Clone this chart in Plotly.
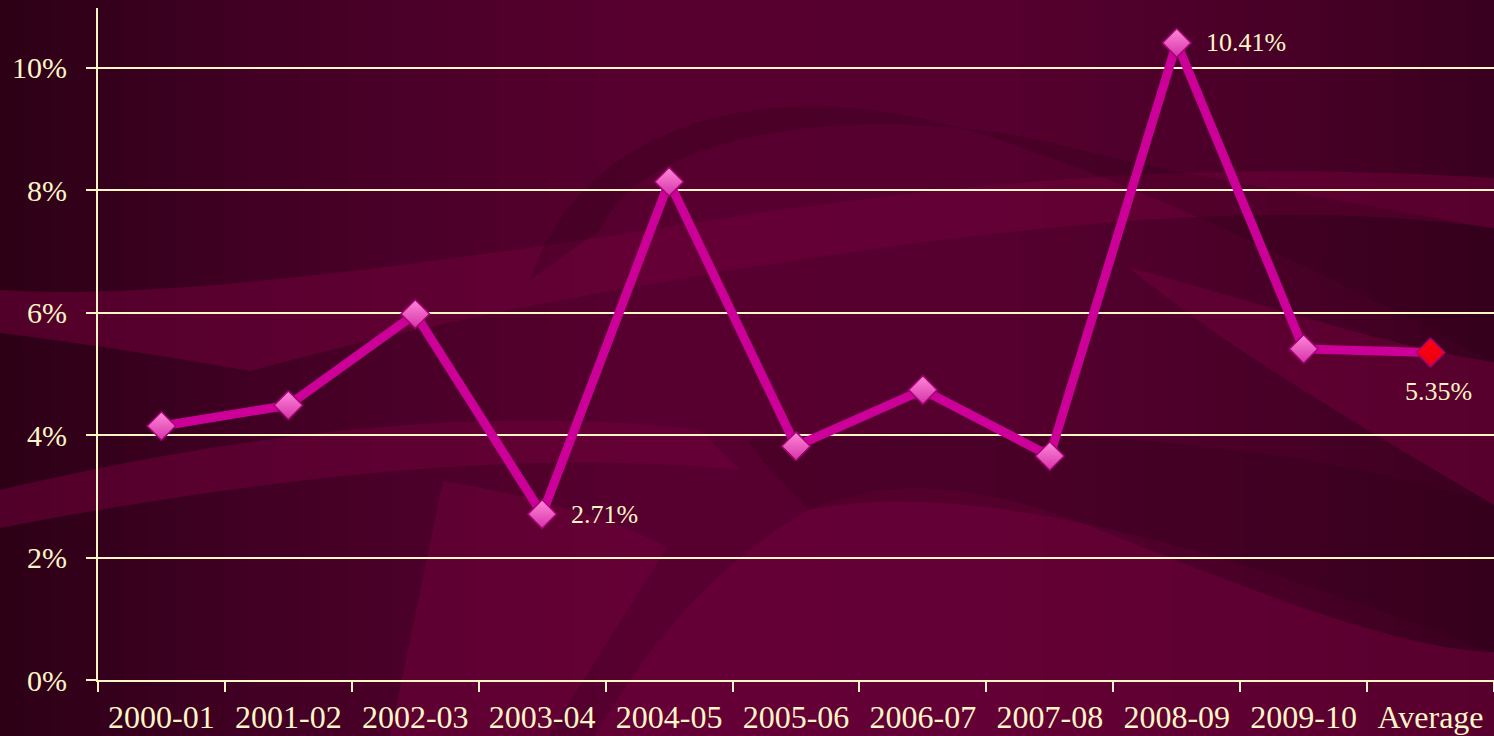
import plotly.graph_objects as go

categories = ["2000-01", "2001-02", "2002-03", "2003-04", "2004-05", "2005-06",
              "2006-07", "2007-08", "2008-09", "2009-10", "Average"]
values = [4.15, 4.49, 5.98, 2.71, 8.14, 3.82, 4.74, 3.66, 10.41, 5.41, 5.35]
labelled = {"2003-04": "2.71%", "2008-09": "10.41%", "Average": "5.35%"}
y_ticks = [0, 2, 4, 6, 8, 10]
y_tick_text = ["0%", "2%", "4%", "6%", "8%", "10%"]

W, H = 1494, 736
L, R, T, B = 98, 0, 8, 56
PW, PH = W - L - R, H - T - B
Y_MAX = 10.98


def px(x, y):
    return (x - L) / PW, (H - B - y) / PH


def path(points):
    out = []
    for cmd, *pts in points:
        coords = []
        for i in range(0, len(pts), 2):
            a, b = px(pts[i], pts[i + 1])
            coords.append(f"{a:.4f},{b:.4f}")
        out.append(cmd + " " + " ".join(coords))
    return " ".join(out) + " Z"


shapes = []
# background horizontal gradient
stops = [(0, (44, 0, 22)), (250, (66, 0, 36)), (650, (88, 0, 48)), (1000, (86, 0, 47)),
         (1300, (72, 0, 39)), (1494, (58, 0, 31))]
N = 60
for i in range(N):
    x0 = i * W / N
    x1 = x0 + W / N + 1
    xc = x0 + W / N / 2
    for j in range(len(stops) - 1):
        if stops[j][0] <= xc <= stops[j + 1][0]:
            t = (xc - stops[j][0]) / (stops[j + 1][0] - stops[j][0])
            c = tuple(int(stops[j][1][k] + t * (stops[j + 1][1][k] - stops[j][1][k])) for k in range(3))
            break
    a0, b0 = px(x0, H)
    a1, b1 = px(x1, 0)
    shapes.append(dict(type="rect", xref="paper", yref="paper", x0=a0, x1=a1, y0=b0, y1=b1,
                       fillcolor=f"rgb{c}", line=dict(width=0), layer="below"))

light = "rgba(112,0,58,0.55)"
dark = "rgba(40,0,20,0.25)"
swooshes = [
    ([("M", 0, 290), ("C", 150, 300, 400, 270, 750, 214), ("C", 1000, 180, 1200, 160, 1494, 178),
      ("L", 1494, 228), ("C", 1250, 195, 1000, 230, 750, 267), ("C", 550, 300, 400, 330, 250, 371),
      ("C", 160, 355, 60, 340, 0, 333)], light),
    ([("M", 0, 490), ("C", 250, 430, 500, 405, 700, 430), ("L", 740, 470),
      ("C", 550, 450, 300, 470, 0, 528)], light),
    ([("M", 443, 481), ("C", 530, 495, 620, 520, 667, 548), ("L", 548, 736), ("L", 390, 736)], light),
    ([("M", 595, 736), ("C", 650, 640, 720, 560, 809, 510), ("C", 900, 470, 1000, 490, 1100, 530),
      ("C", 1250, 590, 1400, 650, 1494, 652), ("L", 1494, 736)], light),
    ([("M", 530, 280), ("C", 580, 130, 760, 60, 1000, 140), ("C", 1150, 190, 1300, 260, 1494, 362),
      ("L", 1494, 229), ("C", 1350, 200, 1200, 180, 1080, 150), ("C", 900, 100, 650, 120, 600, 230)], dark),
    ([("M", 1128, 267), ("C", 1250, 300, 1400, 350, 1494, 362), ("L", 1494, 505),
      ("C", 1350, 420, 1230, 350, 1128, 267)], light),
    ([("M", 747, 440), ("C", 1000, 420, 1300, 440, 1494, 505), ("L", 1494, 652),
      ("C", 1300, 580, 1000, 470, 809, 510), ("C", 780, 480, 760, 460, 747, 440)], dark),
]
for pts, col in swooshes:
    shapes.append(dict(type="path", xref="paper", yref="paper", path=path(pts),
                       fillcolor=col, line=dict(width=0), layer="below"))

cream = "#fff6c8"
font = "Liberation Serif, Times New Roman, serif"

marker_colors = ["#ff8ad8"] * (len(categories) - 1) + ["#ff0010"]
marker_grad = ["#d632a8"] * (len(categories) - 1) + ["#e80010"]

fig = go.Figure()
fig.add_trace(go.Scatter(
    x=categories, y=values, mode="lines+markers",
    line=dict(color="#cc0099", width=9),
    marker=dict(symbol="diamond", size=22, color=marker_colors,
                gradient=dict(type="vertical", color=marker_grad),
                line=dict(color="#a8007a", width=1.5)),
    hoverinfo="x+y", showlegend=False,
))

annotations = []
for c, v in zip(categories, values):
    if c in labelled:
        if c == "Average":
            annotations.append(dict(x=c, y=v, text=labelled[c], showarrow=False, xanchor="center",
                                    yanchor="middle", yshift=-39, xshift=8,
                                    font=dict(family=font, size=26, color=cream)))
        else:
            annotations.append(dict(x=c, y=v, text=labelled[c], showarrow=False, xanchor="left",
                                    yanchor="middle", xshift=27, yshift=0,
                                    font=dict(family=font, size=26, color=cream)))

fig.update_layout(
    width=W, height=H,
    margin=dict(l=L, r=R, t=T, b=B, pad=0),
    paper_bgcolor="#3a001e", plot_bgcolor="rgba(0,0,0,0)",
    shapes=shapes, annotations=annotations,
    font=dict(family=font, color=cream, size=31),
    xaxis=dict(type="category", range=[-0.5, 10.5], showgrid=False, showline=True,
               linecolor=cream, linewidth=2, ticks="outside", tickson="boundaries",
               ticklen=10, tickwidth=2, tickcolor=cream, ticklabelstandoff=8,
               tickfont=dict(family=font, size=32, color=cream), zeroline=False),
    yaxis=dict(range=[0, Y_MAX], tickvals=y_ticks, ticktext=y_tick_text, showgrid=True,
               gridcolor=cream, gridwidth=2, showline=True, linecolor=cream, linewidth=2,
               ticks="outside", ticklen=10, tickwidth=2, tickcolor=cream, zeroline=False,
               ticklabelstandoff=13,
               tickfont=dict(family=font, size=30, color=cream)),
)

fig.write_html("out.html", config={"displayModeBar": False},
               post_script="document.body.style.margin='0';document.body.style.background='#2a0016';")
